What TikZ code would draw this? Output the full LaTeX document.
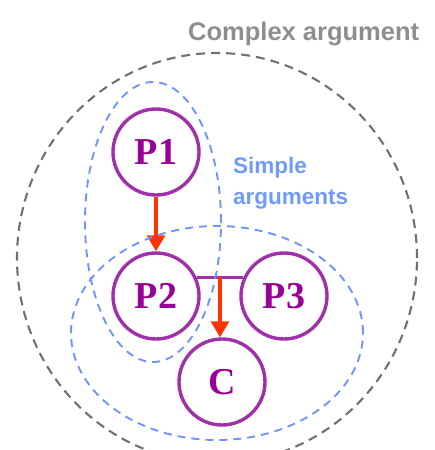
\documentclass[tikz,border=0pt]{standalone}
\usepackage{fontspec}
\setmainfont{Liberation Serif}
\setsansfont{Liberation Sans}
\usetikzlibrary{arrows.meta}
\definecolor{argpurple}{HTML}{A030A8}
\definecolor{argtext}{HTML}{990099}
\definecolor{argred}{HTML}{FF3300}
\definecolor{arggray}{HTML}{707070}
\definecolor{arglabel}{HTML}{8E8E8E}
\definecolor{argblue}{HTML}{7094FF}
\definecolor{bluelabel}{HTML}{6F9BFF}

\begin{document}
\begin{tikzpicture}[x=1pt,y=-1pt,
     prop/.style={draw=argpurple,circle,line width=3.4pt,minimum size=86pt,
       inner sep=0pt,text=argtext,font=\fontsize{38}{40}\selectfont\bfseries},
     inf/.style={draw=argred,line width=3.2pt,-{Triangle[width=18pt,length=16pt]}},
     bar/.style={draw=argpurple,line width=3pt},
     complex/.style={draw=arggray,line width=2.1pt,dash pattern=on 9pt off 6pt},
     simple/.style={draw=argblue,line width=1.9pt,dash pattern=on 8pt off 6pt},
     lab/.style={anchor=base west,inner sep=0pt,font=\sffamily\bfseries}]
    \useasboundingbox (0,0) rectangle (434,450);
    \node[prop] (P1) at (156,152) {P1};
    \node[prop] (P2) at (156,296) {P2};
    \node[prop] (P3) at (284,296) {P3};
    \node[prop] (C) at (222,382) {C};
    \draw[inf] (P1) -- (P2);
    \path[bar] (P2.25) -- coordinate[midway] (j) (P3.155);
    \draw[inf] (j) -- (j |- C.north);
    % argument boundaries
    \draw[complex] (217,258) ellipse [x radius=200pt,y radius=205pt];
    \draw[simple] (153,222) ellipse [x radius=68pt,y radius=140pt];
    \draw[simple] (217,333) ellipse [x radius=146pt,y radius=107pt];
    \node[lab,text=arglabel,font=\fontsize{25.5}{28}\sffamily\bfseries]
      (cplx) at (188,40) {Complex argument};
    \node[lab,text=bluelabel,align=left,font=\fontsize{22.5}{31}\sffamily\bfseries]
      (smpl) at (233,204) {Simple\\arguments};
  \end{tikzpicture}
\end{document}
